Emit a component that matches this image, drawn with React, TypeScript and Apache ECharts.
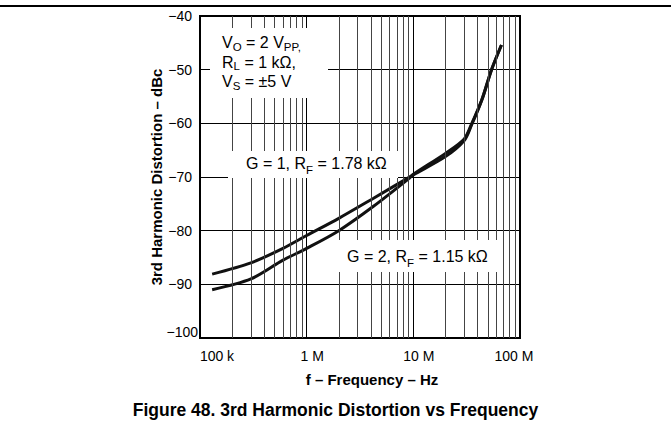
import React, { useEffect, useRef } from "react";
import * as echarts from "echarts";

// Frequencies (Hz) and distortion (dBc)
const freqG1 = [1.3e5, 3e5, 6e5, 1e6, 2e6, 4.2e6, 1e7, 2e7, 3e7, 3.5e7, 4.4e7, 5.4e7, 6.7e7];
const dbcG1 = [-88.1, -86.0, -83.3, -80.9, -77.7, -74.0, -69.6, -66.2, -63.2, -60.4, -55.6, -50.1, -45.4];

const freqG2 = [1.3e5, 3e5, 6e5, 1e6, 2e6, 4.2e6, 9.2e6, 1e7, 2e7, 3e7, 3.5e7, 4.4e7, 5.4e7, 6.7e7];
const dbcG2 = [-91.0, -89.0, -85.5, -83.3, -80.0, -75.5, -70.2, -69.5, -65.6, -62.9, -60.2, -55.5, -50.0, -45.4];

const xTickValues = [1e5, 1e6, 1e7, 1e8];
const xTickLabels = ["100 k", "1 M", "10 M", "100 M"];
const xLabelStyle = ["k", "m", "m", "h"];

const yTickValues = [-100, -90, -80, -70, -60, -50, -40];
const yTickLabels = ["−100", "−90", "−80", "−70", "−60", "−50", "−40"];

const FONT = "Arial, 'Liberation Sans', Helvetica, sans-serif";

export default function App() {
  const ref = useRef<HTMLDivElement>(null);
  useEffect(() => {
    if (!ref.current) return;
    const chart = echarts.init(ref.current, null, { renderer: "svg" });

    const minorGrid: number[] = [];
    for (let d = 1e5; d < 1e8; d *= 10) {
      for (let k = 2; k <= 9; k++) minorGrid.push(Math.round(k * d));
    }

    const sub = { fontSize: 11.5, lineHeight: 11, verticalAlign: "bottom", fontFamily: FONT, color: "#000" };
    const norm = { fontSize: 16, lineHeight: 19.5, fontFamily: FONT, color: "#000" };
    const norm1 = { fontSize: 16, lineHeight: 26, fontFamily: FONT, color: "#000" };
    const sub1 = { fontSize: 11.5, lineHeight: 15, verticalAlign: "bottom", fontFamily: FONT, color: "#000" };

    chart.setOption({
      animation: false,
      backgroundColor: "#fff",
      title: {
        text: "Figure 48. 3rd Harmonic Distortion vs Frequency",
        left: "center",
        top: 396,
        textStyle: { fontFamily: FONT, fontSize: 17.5, fontWeight: "bold", color: "#000" },
      },
      grid: {
        left: 200,
        top: 16,
        width: 320,
        height: 322,
        show: true,
        borderColor: "#000",
        borderWidth: 2,
        backgroundColor: "transparent",
      },
      xAxis: {
        type: "log",
        logBase: 10,
        min: 1e5,
        max: 1e8,
        name: "f – Frequency – Hz",
        nameLocation: "middle",
        nameGap: 34,
        nameMoveOverlap: false,
        nameTextStyle: { fontFamily: FONT, fontSize: 15, fontWeight: "bold", color: "#000", padding: [0, 0, 0, 24] },
        axisLine: { show: false },
        axisTick: { show: false },
        axisLabel: {
          margin: 11,
          fontFamily: FONT,
          fontSize: 14,
          color: "#000",
          formatter: (v: number) => {
            const i = xTickValues.findIndex((t) => Math.abs(Math.log10(t) - Math.log10(v)) < 1e-6);
            if (i < 0) return "";
            return "{" + xLabelStyle[i] + "|" + xTickLabels[i] + "}";
          },
          rich: {
            k: { fontFamily: FONT, fontSize: 14, color: "#000", padding: [0, 0, 0, 34] },
            m: { fontFamily: FONT, fontSize: 14, color: "#000", padding: [0, 0, 0, 11] },
            h: { fontFamily: FONT, fontSize: 14, color: "#000", padding: [0, 12, 0, 0] },
          },
        },
        splitLine: { show: true, lineStyle: { color: "#000", width: 1 } },
      },
      yAxis: {
        type: "value",
        min: -100,
        max: -40,
        interval: 10,
        name: "3rd Harmonic Distortion – dBc",
        nameLocation: "middle",
        nameGap: 36,
        nameRotate: 90,
        nameMoveOverlap: false,
        nameTextStyle: { fontFamily: FONT, fontSize: 15, fontWeight: "bold", color: "#000" },
        axisLine: { show: false },
        axisTick: { show: false },
        axisLabel: {
          margin: 2,
          fontFamily: FONT,
          fontSize: 14,
          color: "#000",
          formatter: (v: number) => {
            const i = yTickValues.indexOf(v);
            if (i < 0) return "";
            return (i === 0 ? "{b|" : "{a|") + yTickLabels[i] + "}";
          },
          rich: {
            a: { fontFamily: FONT, fontSize: 14, color: "#000", padding: [0, 6, 0, 0] },
            b: { fontFamily: FONT, fontSize: 14, color: "#000", padding: [0, 0, 12, 0] },
          },
        },
        splitLine: { show: true, lineStyle: { color: "#000", width: 1 } },
      },
      series: [
        {
          type: "line",
          data: [],
          z: 1,
          silent: true,
          markLine: {
            silent: true,
            symbol: "none",
            label: { show: false },
            lineStyle: { color: "#444", width: 1, type: "solid" },
            data: minorGrid.map((f) => ({ xAxis: f })),
          },
        },
        {
          name: "G = 1",
          type: "line",
          z: 3,
          data: freqG1.map((f, i) => [f, dbcG1[i]]),
          showSymbol: false,
          smooth: 0.3,
          lineStyle: { color: "#111", width: 3 },
        },
        {
          name: "G = 2",
          type: "line",
          z: 3,
          data: freqG2.map((f, i) => [f, dbcG2[i]]),
          showSymbol: false,
          smooth: 0.3,
          lineStyle: { color: "#111", width: 3 },
        },
      ],
      graphic: [
        { type: "line", z: 100, shape: { x1: 0, y1: 6, x2: 671, y2: 6 }, style: { stroke: "#000", lineWidth: 2 } },
        { type: "rect", z: 100, shape: { x: 210, y: 28, width: 118, height: 70 }, style: { fill: "#fff" } },
        {
          type: "text",
          z: 101,
          x: 222,
          y: 33,
          style: {
            text: "{n|V}{s|O}{n| = 2 V}{s|PP,}\n{n|R}{s|L}{n| = 1 kΩ,}\n{n|V}{s|S}{n| = ±5 V}",
            rich: { n: norm, s: sub },
          },
        },
        { type: "rect", z: 100, shape: { x: 228, y: 151, width: 170, height: 27 }, style: { fill: "#fff" } },
        {
          type: "text",
          z: 101,
          x: 246,
          y: 150,
          style: {
            text: "{n|G = 1, R}{s|F}{n| = 1.78 kΩ}",
            rich: { n: norm1, s: sub1 },
          },
        },
        { type: "rect", z: 100, shape: { x: 336, y: 240, width: 166, height: 32 }, style: { fill: "#fff" } },
        {
          type: "text",
          z: 101,
          x: 347,
          y: 243,
          style: {
            text: "{n|G = 2, R}{s|F}{n| = 1.15 kΩ}",
            rich: { n: norm1, s: sub1 },
          },
        },
      ],
    });
    return () => chart.dispose();
  }, []);
  return (
    <div
      ref={ref}
      style={{ position: "fixed", left: 0, top: 0, width: 671, height: 424, background: "#fff" }}
    />
  );
}
